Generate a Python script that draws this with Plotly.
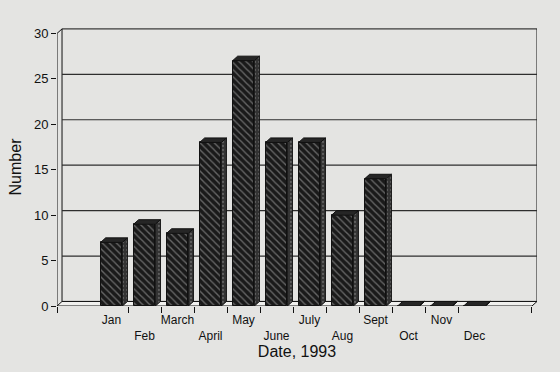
import plotly.graph_objects as go

# ---- data ----
months = ["Jan", "Feb", "March", "April", "May", "June", "July", "Aug", "Sept", "Oct", "Nov", "Dec"]
counts = [7, 9, 8, 18, 27, 18, 18, 10, 14, 0, 0, 0]
y_ticks = [0, 5, 10, 15, 20, 25, 30]

# ---- geometry (in data units) ----
X0, X1 = -1.652, 12.894      # plot x range
Y0, Y1 = 0, 30.6             # plot y range
DX, DY = 0.152, 0.5          # 3-D depth offset
W = 0.66                     # bar front width

PAPER = "#e4e4e2"
INK = "#111111"

xs = list(range(len(months)))

fig = go.Figure()

# front faces of bars
fig.add_trace(go.Bar(
    x=xs, y=counts, width=W,
    marker=dict(color="#1a1a1a",
                line=dict(color=INK, width=1),
                pattern=dict(shape="\\", bgcolor="#1a1a1a", fgcolor="#666666",
                             size=5, solidity=0.28, fillmode="replace")),
    hoverinfo="skip", showlegend=False,
))

# top faces
tx, ty = [], []
for x, v in zip(xs, counts):
    tx += [x - W / 2, x + W / 2, x + W / 2 + DX, x - W / 2 + DX, x - W / 2, None]
    ty += [v, v, v + DY, v + DY, v, None]
fig.add_trace(go.Scatter(
    x=tx, y=ty, mode="lines", fill="toself",
    fillcolor="#262626", line=dict(color=INK, width=1),
    hoverinfo="skip", showlegend=False,
))

# side faces
sx, sy = [], []
for x, v in zip(xs, counts):
    r = x + W / 2
    sx += [r, r + DX, r + DX, r, r, None]
    sy += [0, DY, v + DY, v, 0, None]
fig.add_trace(go.Scatter(
    x=sx, y=sy, mode="lines", fill="toself",
    fillcolor="#3a3a3a",
    fillpattern=dict(shape=".", bgcolor="#333333", fgcolor="#8a8a8a", size=4, solidity=0.25),
    line=dict(color=INK, width=1),
    hoverinfo="skip", showlegend=False,
))

# invisible trace so the label axis is drawn
fig.add_trace(go.Scatter(
    x=xs, y=[None] * len(xs), xaxis="x2", yaxis="y", mode="markers",
    hoverinfo="skip", showlegend=False,
))

# ---- walls, floor, grid (decorative frame, behind bars) ----
shapes = []
line_k = dict(color=INK, width=1)
shapes.append(dict(type="rect", xref="x", yref="y", x0=X0 + DX, x1=X1, y0=DY, y1=30 + DY,
                   line=line_k, fillcolor=PAPER, layer="below"))
for t in y_ticks[1:-1]:
    shapes.append(dict(type="line", xref="x", yref="y", x0=X0 + DX, x1=X1, y0=t + DY, y1=t + DY,
                       line=dict(color="#2e2e2e", width=1.2), layer="below"))
shapes.append(dict(type="path", xref="x", yref="y",
                   path=f"M {X0},0 L {X1 - DX},0 L {X1},{DY} L {X0 + DX},{DY} Z",
                   line=line_k, fillcolor="#f0f0ee", layer="below"))
shapes.append(dict(type="path", xref="x", yref="y",
                   path=f"M {X0},0 L {X0},30 L {X0 + DX},{30 + DY}",
                   line=line_k, layer="below"))

fig.update_layout(
    width=560, height=372,
    margin=dict(l=57, r=23, t=28, b=66),
    paper_bgcolor=PAPER, plot_bgcolor=PAPER,
    font=dict(family="Liberation Sans, Arial, sans-serif", color=INK),
    shapes=shapes,
    bargap=0,
    xaxis=dict(range=[X0, X1], showgrid=False, zeroline=False, showline=False,
               tickmode="array",
               tickvals=[X0 + 0.002, 0.5, 1.5, 2.5, 3.5, 4.5, 5.5, 6.5, 7.5, 8.5, 9.5, 10.5, X1 - DX],
               ticktext=[""] * 13, ticks="outside", ticklen=6, tickcolor=INK, tickwidth=1),
    xaxis2=dict(overlaying="x", anchor="y", side="bottom", range=[X0, X1],
                showgrid=False, zeroline=False, showline=False,
                tickmode="array", tickvals=xs,
                ticktext=[m if i % 2 == 0 else "<br>" + m for i, m in enumerate(months)],
                ticks="", ticklabelstandoff=5, tickfont=dict(size=12, color=INK),
                title=dict(text="Date, 1993", font=dict(size=16, color=INK), standoff=2)),
    yaxis=dict(range=[Y0, Y1], showgrid=False, zeroline=False, showline=False,
               tickmode="array", tickvals=y_ticks, ticks="outside", ticklen=5,
               tickcolor=INK, tickfont=dict(size=13, color=INK),
               title=dict(text="Number", font=dict(size=16, color=INK), standoff=8)),
)

fig.write_html("out.html")
